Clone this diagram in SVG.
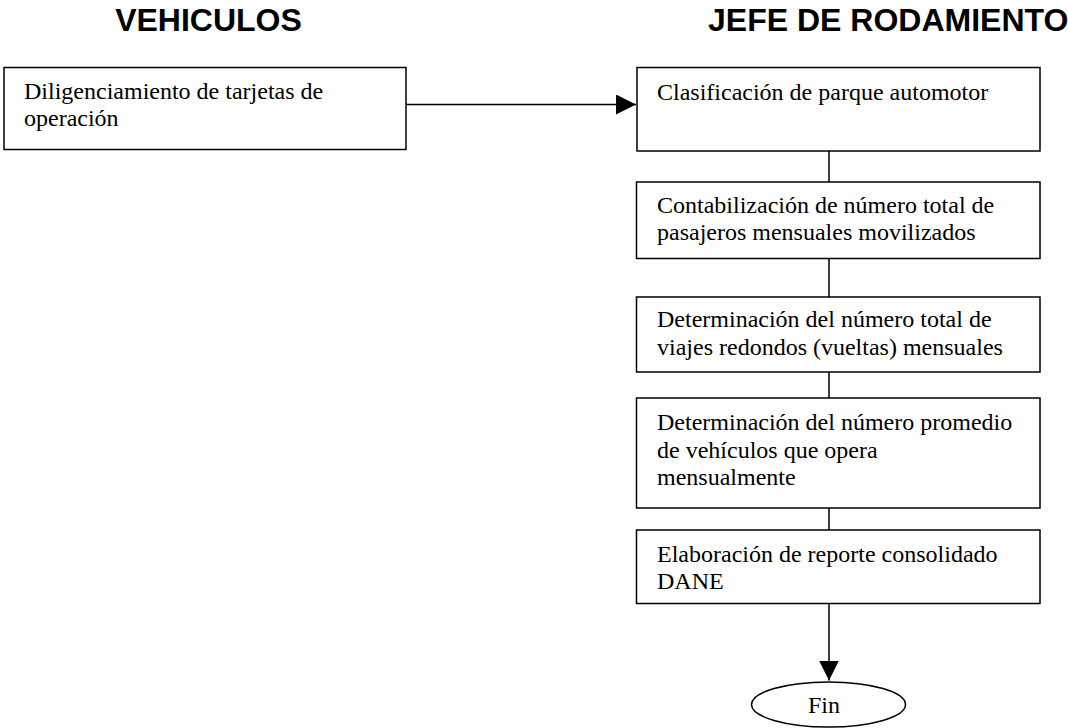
<svg xmlns="http://www.w3.org/2000/svg" width="1068" height="728" viewBox="0 0 1068 728">
<style>
.hdr{font-family:"Liberation Sans",Arial,sans-serif;font-weight:bold;font-size:32px;fill:#000}
.t{font-family:"Liberation Serif","Times New Roman",serif;font-size:24px;fill:#000}
.box{fill:#fff;stroke:#000;stroke-width:1.5}
.ln{stroke:#000;stroke-width:1.5;fill:none}
</style>
<defs>
<marker id="ah" viewBox="0 0 20 20" refX="20" refY="10" markerWidth="20" markerHeight="20" markerUnits="userSpaceOnUse" orient="auto">
<path d="M0,0 L20,10 L0,20 Z" fill="#000"/>
</marker>
</defs>
<rect width="1068" height="728" fill="#fff"/>
<g id="headers">
<text class="hdr" x="208.5" y="31" text-anchor="middle">VEHICULOS</text>
<text class="hdr" x="708" y="31">JEFE DE RODAMIENTO</text>
</g>
<g id="connectors">
<line class="ln" x1="406" y1="104.5" x2="636" y2="104.5" marker-end="url(#ah)"/>
<line class="ln" x1="829" y1="151" x2="829" y2="182"/>
<line class="ln" x1="829" y1="258" x2="829" y2="297"/>
<line class="ln" x1="829" y1="372" x2="829" y2="398"/>
<line class="ln" x1="829" y1="508" x2="829" y2="530"/>
<line class="ln" x1="829" y1="603" x2="829" y2="680.5" marker-end="url(#ah)"/>
</g>
<g id="n1">
<rect class="box" x="4" y="67.5" width="402" height="82"/>
<text class="t" x="24" y="99">Diligenciamiento de tarjetas de</text>
<text class="t" x="24" y="126">operación</text>
</g>
<g id="n2">
<rect class="box" x="637" y="67.5" width="403" height="83.5"/>
<text class="t" x="657" y="100">Clasificación de parque automotor</text>
</g>
<g id="n3">
<rect class="box" x="636.5" y="182" width="403.5" height="76.5"/>
<text class="t" x="657" y="213">Contabilización de número total de</text>
<text class="t" x="657" y="240">pasajeros mensuales movilizados</text>
</g>
<g id="n4">
<rect class="box" x="636.5" y="297" width="403.5" height="75"/>
<text class="t" x="657" y="327">Determinación del número total de</text>
<text class="t" x="657" y="355">viajes redondos (vueltas) mensuales</text>
</g>
<g id="n5">
<rect class="box" x="636.5" y="398" width="403.5" height="110"/>
<text class="t" x="657" y="430">Determinación del número promedio</text>
<text class="t" x="657" y="458">de vehículos que opera</text>
<text class="t" x="657" y="485">mensualmente</text>
</g>
<g id="n6">
<rect class="box" x="636.5" y="530" width="403.5" height="73.5"/>
<text class="t" x="657" y="562">Elaboración de reporte consolidado</text>
<text class="t" x="657" y="589">DANE</text>
</g>
<g id="fin">
<ellipse class="box" cx="828.5" cy="704.5" rx="77" ry="22.5"/>
<text class="t" x="824" y="713" text-anchor="middle">Fin</text>
</g>
</svg>
